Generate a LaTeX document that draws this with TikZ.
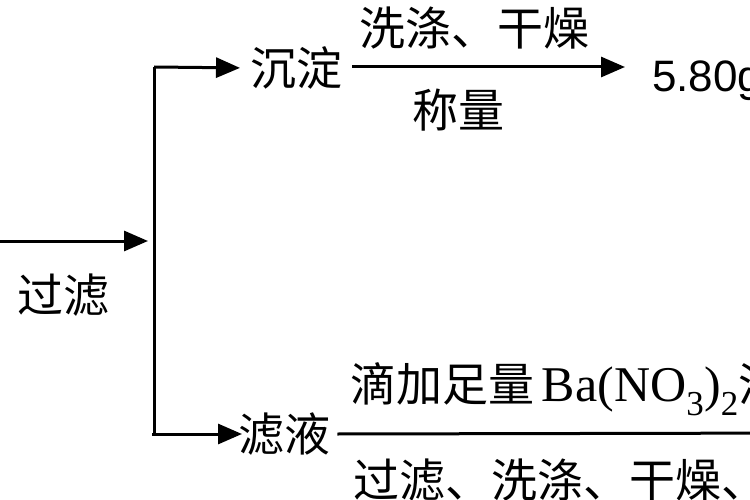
\documentclass[tikz,border=0pt]{standalone}
\usepackage{fontspec}
\setmainfont{Liberation Serif}
\newfontfamily\cjk{Noto Sans CJK SC}
\newfontfamily\numfont{Liberation Sans}
\usetikzlibrary{arrows.meta}
\tikzset{
  flow/.style={line width=3pt, draw=black},
  arr/.style={flow, -{Triangle[length=24pt,width=20pt]}},
  lbl/.style={inner sep=0pt, font=\cjk\fontsize{46}{52}\selectfont},
}
\begin{document}
\begin{tikzpicture}[x=1pt,y=-1pt]
\useasboundingbox (0,0) rectangle (750,500);
\clip (0,0) rectangle (750,500);
% coordinates
\coordinate (in) at (-20,241);
\coordinate (split) at (154,241);
\coordinate (top) at (154,67);
\coordinate (bot) at (154,434);
\coordinate (out) at (820,433);
% nodes
\node[lbl] (guolv) at (63,295) {过滤};
\node[lbl, anchor=west] (chendian) at (250,68) {沉淀};
\node[lbl, anchor=west, font=\numfont\fontsize{44}{50}\selectfont] (mass) at (652,81) {5.80g};
\node[lbl, anchor=west] (lvye) at (238,434) {滤液};
\node[lbl] (wash) at (474,28) {洗涤、干燥};
\node[lbl] (weigh) at (458,110) {称量};
% connectors
\draw[arr, shorten >=6pt] (in) -- (split);
\draw[flow] (top) -- (bot);
\draw[arr, shorten >=10pt] (top) -- (chendian.west);
\draw[arr] ([xshift=10pt]chendian.east |- top) -- ([xshift=-27pt]mass.west |- top);
\draw[arr, shorten <=-2pt] (bot) -- ([xshift=4pt]lvye.west);
\draw[flow] ([xshift=7pt]lvye.east) -- (out);
\node[lbl, anchor=west] (reagent) at (350,389) {滴加足量\,{\rmfamily\fontsize{50}{52}\selectfont Ba(NO\textsubscript{3})\textsubscript{2}}溶液};
\node[lbl, anchor=west] (steps) at (353,480) {过滤、洗涤、干燥、称量};
\end{tikzpicture}
\end{document}
